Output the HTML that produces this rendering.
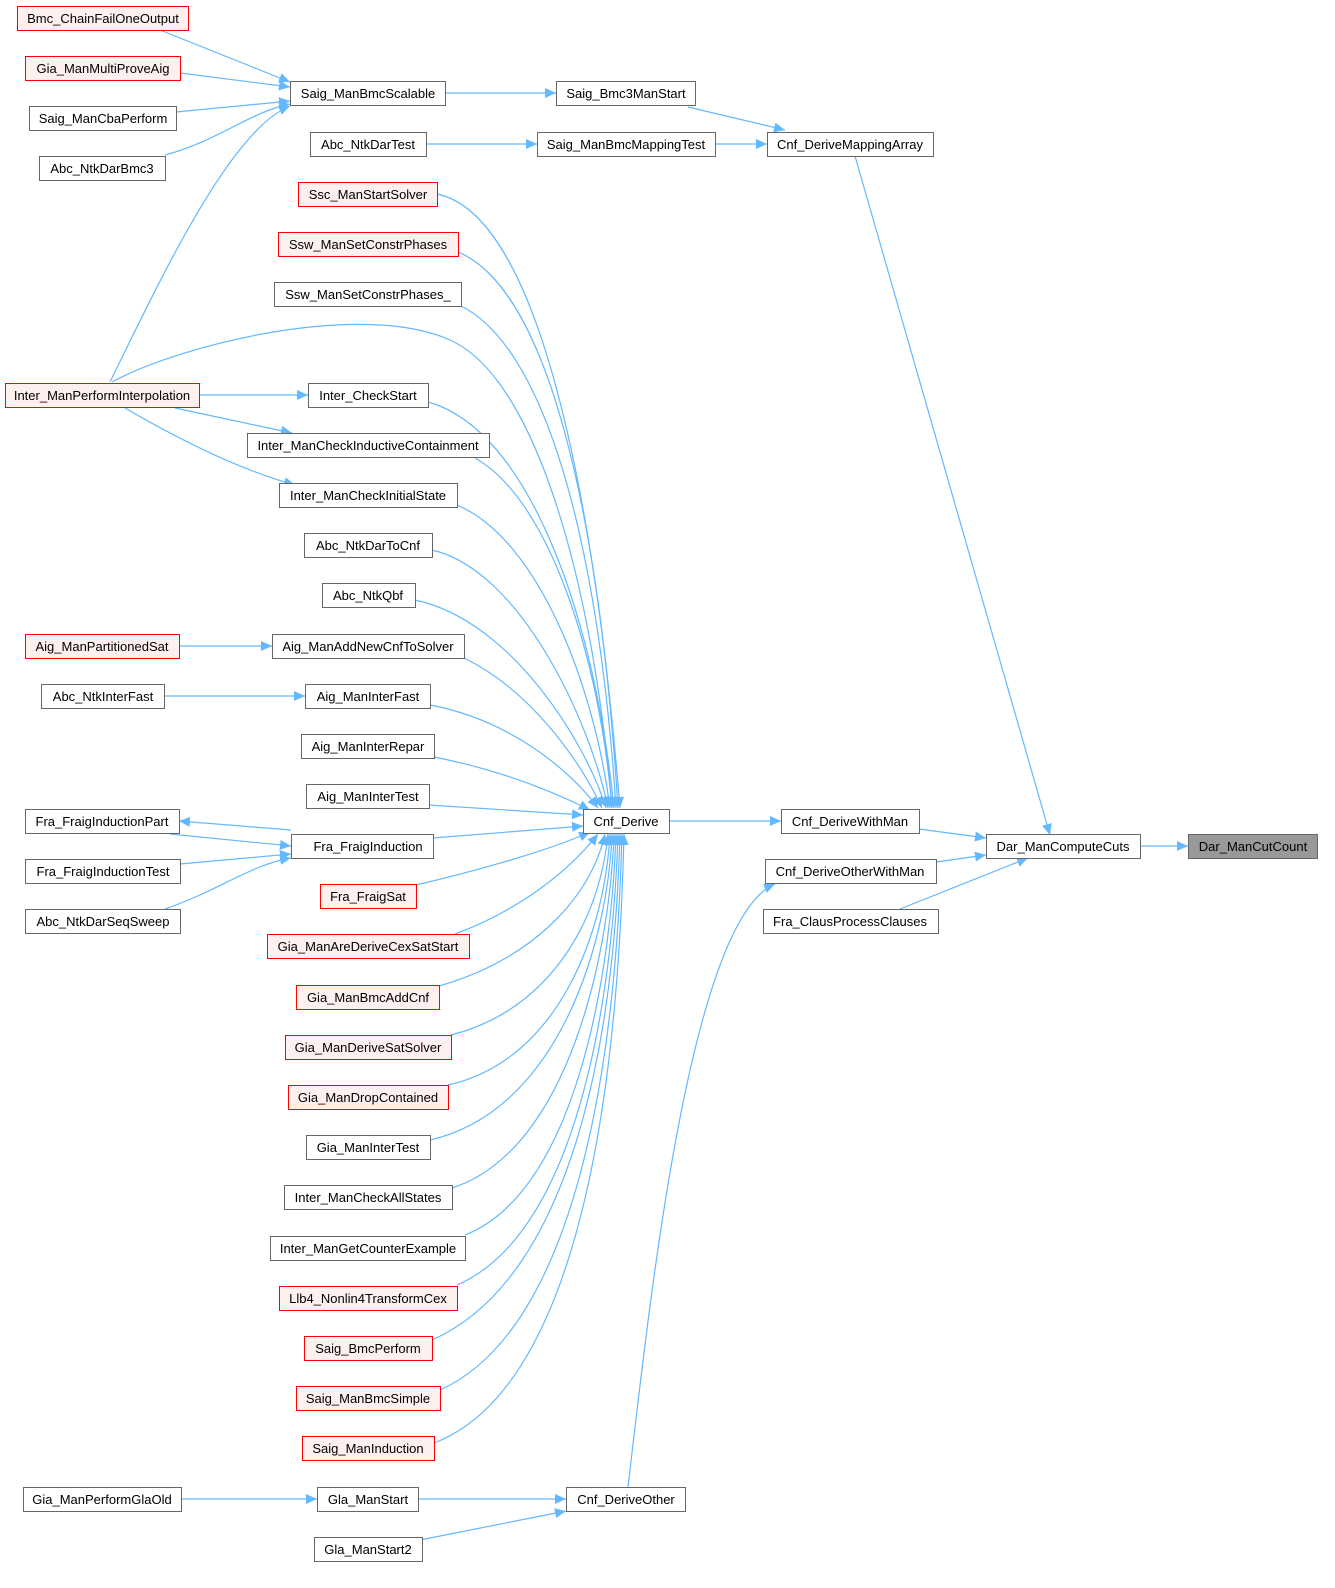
<!DOCTYPE html>
<html><head><meta charset="utf-8"><style>
html,body{margin:0;padding:0;background:#fff}
svg text{font-family:"Liberation Sans",Arial,sans-serif;font-size:13px;fill:#000}
</style></head><body>
<svg width="1335" height="1583" viewBox="0 0 1335 1583" xmlns="http://www.w3.org/2000/svg">
<defs><marker id="a" markerWidth="12" markerHeight="10" refX="11" refY="5" orient="auto" markerUnits="userSpaceOnUse"><path d="M0,0 L11,5 L0,10 z" fill="#63b8ff"/></marker></defs>
<g fill="none" stroke="#63b8ff" stroke-width="1.2" marker-end="url(#a)">
<path d="M160,30 L290,82"/>
<path d="M180,73 L290,87"/>
<path d="M176,112 L290,101"/>
<path d="M165,155 C220,140 250,112 290,104"/>
<path d="M110,382 C160,280 230,130 290,106"/>
<path d="M445,93 L556,93"/>
<path d="M688,107 L785,130"/>
<path d="M426,144 L537,144"/>
<path d="M715,144 L767,144"/>
<path d="M855,156 L1050,835"/>
<path d="M199,395 L308,395"/>
<path d="M175,408 L292,433"/>
<path d="M125,408 C180,440 240,470 295,485"/>
<path d="M179,646 L272,646"/>
<path d="M164,696 L305,696"/>
<path d="M291,830 L179,821"/>
<path d="M170,834 L291,846"/>
<path d="M180,864 L291,854"/>
<path d="M165,909 C220,890 250,865 291,858"/>
<path d="M112,382 C180,345 360,300 450,340 C540,380 595,600 612,808"/>
<path d="M437,194 C540,215 595,500 620,808"/>
<path d="M458,252 C550,290 600,520 618,808"/>
<path d="M461,306 C550,350 600,560 616,808"/>
<path d="M428,402 C530,430 595,620 614,808"/>
<path d="M475,458 C550,500 600,660 612,808"/>
<path d="M457,505 C540,540 595,690 610,808"/>
<path d="M432,550 C520,570 590,720 608,808"/>
<path d="M415,600 C510,620 585,740 606,808"/>
<path d="M464,658 C530,690 580,760 602,808"/>
<path d="M430,705 C510,720 570,770 598,808"/>
<path d="M434,757 C500,770 550,790 590,810"/>
<path d="M429,805 L583,815"/>
<path d="M433,838 L583,826"/>
<path d="M416,885 C480,870 550,850 590,832"/>
<path d="M455,934 C520,910 570,870 598,834"/>
<path d="M439,986 C530,960 590,900 605,834"/>
<path d="M451,1035 C550,1010 600,920 608,834"/>
<path d="M448,1085 C560,1060 605,930 610,834"/>
<path d="M430,1140 C560,1110 608,940 612,834"/>
<path d="M452,1188 C570,1150 610,950 614,834"/>
<path d="M465,1235 C580,1190 612,960 616,834"/>
<path d="M457,1285 C585,1230 614,970 618,834"/>
<path d="M432,1340 C590,1270 616,980 620,834"/>
<path d="M440,1390 C595,1320 618,990 622,834"/>
<path d="M434,1443 C600,1380 620,1000 624,834"/>
<path d="M669,821 L781,821"/>
<path d="M919,829 L986,838"/>
<path d="M936,862 L986,855"/>
<path d="M900,909 L1028,858"/>
<path d="M1140,846 L1188,846"/>
<path d="M628,1487 C650,1300 690,920 775,884"/>
<path d="M181,1499 L317,1499"/>
<path d="M418,1499 L566,1499"/>
<path d="M420,1540 L566,1511"/>
</g>
<g stroke-width="1">
<g fill="#fff0f0" stroke="#ff0000">
<rect x="17.5" y="6.5" width="171" height="24"/>
<rect x="25.5" y="56.5" width="155" height="24"/>
<rect x="5.5" y="383.5" width="194" height="24"/>
<rect x="25.5" y="634.5" width="154" height="24"/>
<rect x="298.5" y="182.5" width="139" height="24"/>
<rect x="278.5" y="232.5" width="180" height="24"/>
<rect x="320.5" y="884.5" width="96" height="24"/>
<rect x="267.5" y="934.5" width="202" height="24"/>
<rect x="296.5" y="985.5" width="143" height="24"/>
<rect x="285.5" y="1035.5" width="166" height="24"/>
<rect x="288.5" y="1085.5" width="160" height="24"/>
<rect x="279.5" y="1286.5" width="178" height="24"/>
<rect x="304.5" y="1336.5" width="128" height="24"/>
<rect x="296.5" y="1386.5" width="144" height="24"/>
<rect x="302.5" y="1436.5" width="132" height="24"/>
</g>
<g fill="#fff" stroke="#666">
<rect x="29.5" y="106.5" width="147" height="24"/>
<rect x="39.5" y="156.5" width="126" height="24"/>
<rect x="41.5" y="684.5" width="123" height="24"/>
<rect x="25.5" y="809.5" width="154" height="24"/>
<rect x="25.5" y="859.5" width="155" height="24"/>
<rect x="25.5" y="909.5" width="155" height="24"/>
<rect x="23.5" y="1487.5" width="158" height="24"/>
<rect x="290.5" y="81.5" width="155" height="24"/>
<rect x="310.5" y="132.5" width="116" height="24"/>
<rect x="274.5" y="282.5" width="187" height="24"/>
<rect x="308.5" y="383.5" width="120" height="24"/>
<rect x="247.5" y="433.5" width="242" height="24"/>
<rect x="279.5" y="483.5" width="178" height="24"/>
<rect x="304.5" y="533.5" width="128" height="24"/>
<rect x="322.5" y="583.5" width="93" height="24"/>
<rect x="272.5" y="634.5" width="192" height="24"/>
<rect x="305.5" y="684.5" width="125" height="24"/>
<rect x="301.5" y="734.5" width="133" height="24"/>
<rect x="306.5" y="784.5" width="123" height="24"/>
<rect x="291.5" y="834.5" width="142" height="24"/>
<rect x="306.5" y="1135.5" width="124" height="24"/>
<rect x="284.5" y="1185.5" width="168" height="24"/>
<rect x="270.5" y="1236.5" width="195" height="24"/>
<rect x="317.5" y="1487.5" width="101" height="24"/>
<rect x="314.5" y="1537.5" width="108" height="24"/>
<rect x="556.5" y="81.5" width="139" height="24"/>
<rect x="537.5" y="132.5" width="178" height="24"/>
<rect x="583.5" y="809.5" width="86" height="24"/>
<rect x="566.5" y="1487.5" width="119" height="24"/>
<rect x="767.5" y="132.5" width="166" height="24"/>
<rect x="781.5" y="809.5" width="138" height="24"/>
<rect x="765.5" y="859.5" width="171" height="24"/>
<rect x="763.5" y="909.5" width="175" height="24"/>
<rect x="986.5" y="834.5" width="154" height="24"/>
</g>
<rect x="1188.5" y="834.5" width="129" height="24" fill="#999" stroke="#666"/>
</g>
<g text-anchor="middle">
<text x="103" y="23">Bmc_ChainFailOneOutput</text>
<text x="103" y="73">Gia_ManMultiProveAig</text>
<text x="103" y="123">Saig_ManCbaPerform</text>
<text x="102" y="173">Abc_NtkDarBmc3</text>
<text x="102" y="400">Inter_ManPerformInterpolation</text>
<text x="102" y="651">Aig_ManPartitionedSat</text>
<text x="103" y="701">Abc_NtkInterFast</text>
<text x="102" y="826">Fra_FraigInductionPart</text>
<text x="103" y="876">Fra_FraigInductionTest</text>
<text x="103" y="926">Abc_NtkDarSeqSweep</text>
<text x="102" y="1504">Gia_ManPerformGlaOld</text>
<text x="368" y="98">Saig_ManBmcScalable</text>
<text x="368" y="149">Abc_NtkDarTest</text>
<text x="368" y="199">Ssc_ManStartSolver</text>
<text x="368" y="249">Ssw_ManSetConstrPhases</text>
<text x="368" y="299">Ssw_ManSetConstrPhases_</text>
<text x="368" y="400">Inter_CheckStart</text>
<text x="368" y="450">Inter_ManCheckInductiveContainment</text>
<text x="368" y="500">Inter_ManCheckInitialState</text>
<text x="368" y="550">Abc_NtkDarToCnf</text>
<text x="368" y="600">Abc_NtkQbf</text>
<text x="368" y="651">Aig_ManAddNewCnfToSolver</text>
<text x="368" y="701">Aig_ManInterFast</text>
<text x="368" y="751">Aig_ManInterRepar</text>
<text x="368" y="801">Aig_ManInterTest</text>
<text x="368" y="851">Fra_FraigInduction</text>
<text x="368" y="901">Fra_FraigSat</text>
<text x="368" y="951">Gia_ManAreDeriveCexSatStart</text>
<text x="368" y="1002">Gia_ManBmcAddCnf</text>
<text x="368" y="1052">Gia_ManDeriveSatSolver</text>
<text x="368" y="1102">Gia_ManDropContained</text>
<text x="368" y="1152">Gia_ManInterTest</text>
<text x="368" y="1202">Inter_ManCheckAllStates</text>
<text x="368" y="1253">Inter_ManGetCounterExample</text>
<text x="368" y="1303">Llb4_Nonlin4TransformCex</text>
<text x="368" y="1353">Saig_BmcPerform</text>
<text x="368" y="1403">Saig_ManBmcSimple</text>
<text x="368" y="1453">Saig_ManInduction</text>
<text x="368" y="1504">Gla_ManStart</text>
<text x="368" y="1554">Gla_ManStart2</text>
<text x="626" y="98">Saig_Bmc3ManStart</text>
<text x="626" y="149">Saig_ManBmcMappingTest</text>
<text x="626" y="826">Cnf_Derive</text>
<text x="626" y="1504">Cnf_DeriveOther</text>
<text x="850" y="149">Cnf_DeriveMappingArray</text>
<text x="850" y="826">Cnf_DeriveWithMan</text>
<text x="850" y="876">Cnf_DeriveOtherWithMan</text>
<text x="850" y="926">Fra_ClausProcessClauses</text>
<text x="1063" y="851">Dar_ManComputeCuts</text>
<text x="1253" y="851">Dar_ManCutCount</text>
</g>
</svg>
</body></html>
